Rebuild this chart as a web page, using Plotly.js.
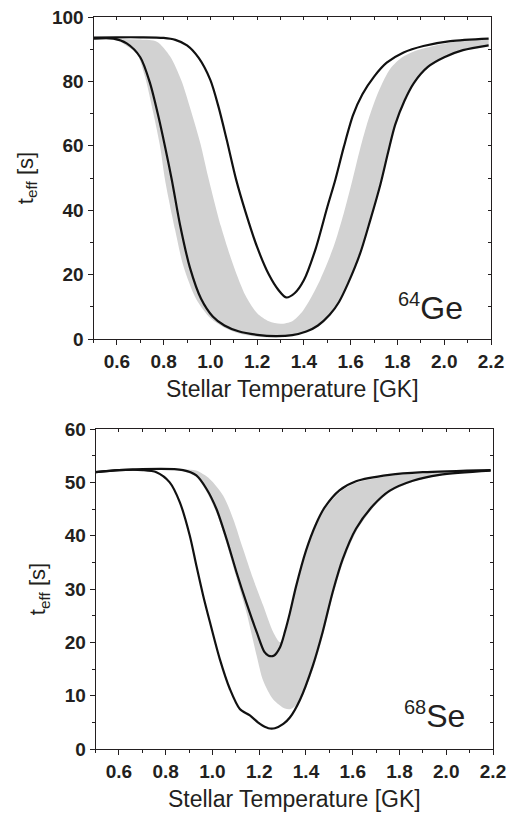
<!DOCTYPE html>
<html>
<head>
<meta charset="utf-8">
<script src="https://cdn.plot.ly/plotly-3.0.1.min.js"></script>
<style>html,body{margin:0;padding:0;background:#fff;}#chart{width:511px;height:814px;}</style>
</head>
<body>
<div id="chart"></div>
<script>
// ---------- 64Ge panel (top) ----------
const geUpperX = [0.5,0.6,0.7,0.8,0.85,0.9,0.95,1.0,1.035,1.07,1.11,1.15,1.2,1.25,1.29,1.324,1.36,1.4,1.45,1.5,1.534,1.57,1.61,1.65,1.7,1.754,1.826,1.911,2.026,2.19];
const geUpperY = [93.6,93.7,93.7,93.5,92.9,91.2,87.3,80.4,72.0,61.8,49.5,39.5,28.5,20.0,15.3,12.9,14.2,18.3,28.0,41.0,49.4,59.5,69.5,76.0,81.5,85.8,89.0,91.0,92.5,93.3];

const geLowerX = [0.5,0.585,0.642,0.7,0.742,0.778,0.806,0.835,0.87,0.913,0.96,1.01,1.06,1.12,1.2,1.28,1.35,1.41,1.46,1.51,1.55,1.59,1.64,1.684,1.727,1.76,1.79,1.83,1.87,1.93,2.0,2.08,2.19];
const geLowerY = [93.3,93.3,91.8,87.5,79.4,69.0,59.7,49.4,35.5,22.0,12.5,7.0,4.2,2.4,1.3,0.9,1.2,2.3,4.2,7.5,11.5,17.5,26.5,37.0,48.0,58.0,66.5,74.0,79.5,84.5,87.5,89.7,91.2];

const geBandLowX = [0.5,0.6,0.642,0.685,0.72,0.756,0.785,0.806,0.849,0.885,0.94,1.0,1.06,1.12,1.2,1.28,1.35,1.41,1.46,1.51,1.55,1.59,1.64,1.684,1.727,1.76,1.79,1.83,1.87,1.93,2.0,2.08,2.19];
const geBandLowY = [93.0,92.8,91.0,88.7,81.5,70.1,59.7,49.4,33.9,22.5,12.3,6.5,3.5,1.8,0.7,0.5,1.0,2.3,4.2,7.5,11.5,17.5,26.5,37.0,48.0,58.0,66.5,74.0,79.5,84.5,87.5,89.7,91.2];

const geBandHighX = [0.5,0.7,0.771,0.828,0.875,0.92,0.958,0.99,1.045,1.1,1.15,1.2,1.25,1.3,1.35,1.39,1.43,1.47,1.527,1.57,1.606,1.64,1.675,1.72,1.77,1.82,1.87,1.954,2.05,2.19];
const geBandHighY = [93.2,93.0,92.3,87.7,80.4,70.1,60.5,50.5,35.0,22.5,13.5,8.0,5.5,4.7,5.5,8.2,12.8,18.5,28.7,39.0,49.0,59.0,68.0,77.0,84.0,87.5,89.3,91.0,92.3,93.0];

// ---------- 68Se panel (bottom) ----------
const seUpperX = [0.5,0.6,0.874,0.931,0.974,1.017,1.06,1.103,1.146,1.19,1.222,1.24,1.262,1.289,1.31,1.331,1.357,1.4,1.443,1.48,1.543,1.614,1.757,1.9,2.19];
const seUpperY = [51.9,52.3,52.3,51.3,48.8,45.0,39.4,33.1,27.3,21.8,18.2,17.5,17.5,19.1,22.0,25.5,30.4,37.2,42.2,45.3,48.5,50.2,51.4,51.9,52.3];

const seLowerX = [0.5,0.6,0.703,0.76,0.817,0.86,0.903,0.931,0.96,0.989,1.031,1.074,1.117,1.16,1.203,1.239,1.267,1.303,1.331,1.374,1.429,1.471,1.514,1.557,1.614,1.686,1.757,1.857,1.971,2.19];
const seLowerY = [51.9,52.3,52.3,51.9,50.0,46.3,40.0,34.4,28.8,23.8,16.9,11.3,7.5,6.3,4.7,3.9,3.9,4.7,5.9,9.2,15.6,21.9,29.4,35.6,41.3,45.6,48.4,50.3,51.4,52.2];

const seBandLowX = [0.5,0.85,0.931,0.974,1.017,1.06,1.103,1.146,1.189,1.217,1.26,1.31,1.335,1.374,1.429,1.471,1.514,1.557,1.614,1.686,1.757,1.857,1.971,2.19];
const seBandLowY = [52.0,52.3,51.0,48.3,44.3,38.6,32.0,25.5,17.5,12.8,9.3,7.6,7.5,9.0,14.8,21.0,28.5,34.8,40.7,45.2,48.1,50.1,51.3,52.2];

const seBandHighX = [0.5,0.85,0.93,0.989,1.046,1.089,1.131,1.174,1.217,1.26,1.289,1.31,1.331,1.357,1.4,1.443,1.48,1.543,1.614,1.757,1.9,2.19];
const seBandHighY = [52.0,52.4,52.2,50.6,47.5,43.1,37.5,31.9,26.9,21.9,20.0,21.6,25.1,30.0,36.8,41.8,44.9,48.1,49.9,51.2,51.7,52.2];

const xTickVals = [0.6,0.8,1.0,1.2,1.4,1.6,1.8,2.0,2.2];
const xTickText = ['0.6','0.8','1.0','1.2','1.4','1.6','1.8','2.0','2.2'];
const geYTicks = [0,20,40,60,80,100];
const seYTicks = [0,10,20,30,40,50,60];

const INK = '#231f20';
const GRAY = '#d2d2d2';
const FONT = 'Liberation Sans, Arial, sans-serif';

function band(xl, yl, xh, yh, xa, ya) {
  return [
    {x: xl, y: yl, xaxis: xa, yaxis: ya, mode: 'lines', line: {width: 0, shape: 'spline', smoothing: 0.8, color: GRAY}, hoverinfo: 'skip'},
    {x: xh, y: yh, xaxis: xa, yaxis: ya, mode: 'lines', fill: 'tonexty', fillcolor: GRAY, line: {width: 0, shape: 'spline', smoothing: 0.8, color: GRAY}, hoverinfo: 'skip'}
  ];
}
function curve(x, y, xa, ya) {
  return {x: x, y: y, xaxis: xa, yaxis: ya, mode: 'lines', line: {width: 2.2, color: '#111', shape: 'spline', smoothing: 0.8}};
}

const data = [
  ...band(geBandLowX, geBandLowY, geBandHighX, geBandHighY, 'x', 'y'),
  curve(geUpperX, geUpperY, 'x', 'y'),
  curve(geLowerX, geLowerY, 'x', 'y'),
  ...band(seBandLowX, seBandLowY, seBandHighX, seBandHighY, 'x2', 'y2'),
  curve(seUpperX, seUpperY, 'x2', 'y2'),
  curve(seLowerX, seLowerY, 'x2', 'y2'),
  {x: [], y: [], xaxis: 'x3', yaxis: 'y', mode: 'lines', hoverinfo: 'skip'},
  {x: [], y: [], xaxis: 'x', yaxis: 'y3', mode: 'lines', hoverinfo: 'skip'},
  {x: [], y: [], xaxis: 'x4', yaxis: 'y2', mode: 'lines', hoverinfo: 'skip'},
  {x: [], y: [], xaxis: 'x2', yaxis: 'y4', mode: 'lines', hoverinfo: 'skip'}
];

const W = 511, H = 814;
const topDomX = [93.5 / W, 491 / W];
const topDomY = [(H - 339) / H, (H - 17) / H];
const botDomX = [95.6 / W, 493 / W];
const botDomY = [(H - 749) / H, (H - 429) / H];

const tickFont = {family: FONT, size: 19, color: INK, weight: 'bold'};
const xTitleFont = {family: FONT, size: 23, color: INK};
const yTitleFont = {family: FONT, size: 22, color: INK};

function mainX(domain, anchor) {
  return {
    domain: domain, anchor: anchor, range: [0.5, 2.2],
    tickmode: 'array', tickvals: xTickVals, ticktext: xTickText,
    ticks: 'outside', ticklen: 5, tickwidth: 1, tickcolor: INK,
    minor: {dtick: 0.1, tick0: 0.5, ticks: 'outside', ticklen: 3, tickcolor: INK, tickwidth: 1},
    showline: true, linecolor: INK, linewidth: 1, mirror: true,
    showgrid: false, zeroline: false, tickfont: tickFont,
    title: {text: 'Stellar Temperature [GK]', font: xTitleFont, standoff: 10},
    fixedrange: true
  };
}
function mainY(domain, anchor, range, tickvals, minorDt) {
  return {
    domain: domain, anchor: anchor, range: range,
    tickmode: 'array', tickvals: tickvals, ticktext: tickvals.map(String),
    ticks: 'outside', ticklen: 5, tickwidth: 1, tickcolor: INK,
    minor: {dtick: minorDt, tick0: 0, ticks: 'outside', ticklen: 3, tickcolor: INK, tickwidth: 1},
    showline: true, linecolor: INK, linewidth: 1, mirror: true,
    showgrid: false, zeroline: false, tickfont: tickFont,
    title: {text: 't<sub>eff</sub> [s]', font: yTitleFont, standoff: 12},
    fixedrange: true
  };
}
function innerX(over, anchor) {
  return {overlaying: over, anchor: anchor, side: 'top', range: [0.5, 2.2],
    tickmode: 'linear', tick0: 0.5, dtick: 0.1, ticks: 'inside', ticklen: 3, tickcolor: INK, tickwidth: 1,
    showticklabels: false, showgrid: false, zeroline: false, showline: false, fixedrange: true};
}
function innerY(over, anchor, range, dt) {
  return {overlaying: over, anchor: anchor, side: 'right', range: range,
    tickmode: 'linear', tick0: 0, dtick: dt, ticks: 'inside', ticklen: 3, tickcolor: INK, tickwidth: 1,
    showticklabels: false, showgrid: false, zeroline: false, showline: false, fixedrange: true};
}

const layout = {
  width: W, height: H,
  margin: {l: 0, r: 0, t: 0, b: 0},
  paper_bgcolor: '#fff', plot_bgcolor: '#fff',
  showlegend: false,
  font: {family: FONT, color: INK},
  xaxis: mainX(topDomX, 'y'),
  yaxis: mainY(topDomY, 'x', [0, 100], geYTicks, 10),
  xaxis2: mainX(botDomX, 'y2'),
  yaxis2: mainY(botDomY, 'x2', [0, 60], seYTicks, 5),
  xaxis3: innerX('x', 'y'),
  yaxis3: innerY('y', 'x', [0, 100], 10),
  xaxis4: innerX('x2', 'y2'),
  yaxis4: innerY('y2', 'x2', [0, 60], 5),
  annotations: [
    {xref: 'x', yref: 'y', x: 1.795, y: 10, xanchor: 'left', yanchor: 'middle', showarrow: false,
     text: '<sup><span style="font-size:20px">64</span></sup>Ge', font: {family: FONT, size: 32, color: INK}},
    {xref: 'x2', yref: 'y2', x: 1.81, y: 6.3, xanchor: 'left', yanchor: 'middle', showarrow: false,
     text: '<sup><span style="font-size:20px">68</span></sup>Se', font: {family: FONT, size: 32, color: INK}}
  ]
};

Plotly.newPlot('chart', data, layout, {staticPlot: true, displayModeBar: false});
</script>
</body>
</html>
